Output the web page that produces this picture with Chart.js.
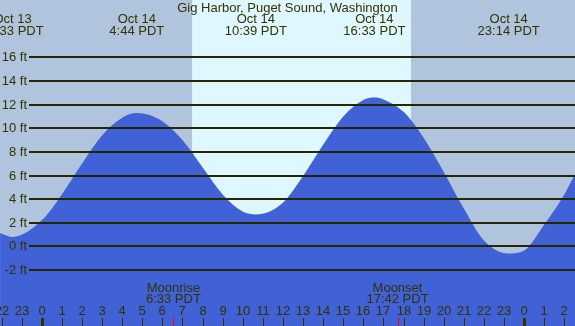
<!DOCTYPE html>
<html>
<head>
<meta charset="utf-8">
<script src="https://cdn.jsdelivr.net/npm/chart.js@4"></script>
<style>
  html, body { margin: 0; padding: 0; background: #b0c4de; }
  canvas { display: block; }
</style>
</head>
<body>
<canvas id="tideChart" width="575" height="326"></canvas>
<script>
// hours relative to Oct 14 00:00 PDT, heights in feet
const tideHours = [-2.07, -1.45, 0, 1, 2, 3, 4, 4.73, 6, 7, 8, 9, 10, 10.65,
  12, 13, 14, 15, 16, 16.55, 17, 18, 19, 20, 21, 22, 23.23, 24, 25, 26, 26.53];
const tideFeet = [1.1, 0.8, 2.2, 4.4, 7.0, 9.4, 10.9, 11.3, 10.6, 9.0, 6.7, 4.4, 2.95, 2.7,
  3.7, 5.95, 8.6, 11.0, 12.4, 12.6, 12.45, 11.4, 9.2, 6.3, 3.2, 0.5, -0.6, -0.35, 1.85, 4.4, 6.1];

const extremeHours = [-1.45, 4.73, 10.65, 16.55, 23.23];
const extremeDates = ['Oct 13', 'Oct 14', 'Oct 14', 'Oct 14', 'Oct 14'];
const extremeTimes = ['22:33 PDT', '4:44 PDT', '10:39 PDT', '16:33 PDT', '23:14 PDT'];

const daylight = [7.48, 18.37];

const moonHours = [6.55, 17.7];
const moonNames = ['Moonrise', 'Moonset'];
const moonTimes = ['6:33 PDT', '17:42 PDT'];

const yTicks = [-2, 0, 2, 4, 6, 8, 10, 12, 14, 16];
const hourTickStart = -2;
const hourTickLabels = ['22', '23', '0', '1', '2', '3', '4', '5', '6', '7', '8', '9', '10', '11', '12',
  '13', '14', '15', '16', '17', '18', '19', '20', '21', '22', '23', '0', '1', '2'];

const title = 'Gig Harbor, Puget Sound, Washington';

const INK = '#333300';
const LINE = '#262600';
const FONT = '13px "Liberation Sans", Arial, sans-serif';

const tidePlugin = {
  id: 'tideDecor',
  beforeDatasetsDraw(chart) {
    const { ctx, chartArea, scales } = chart;
    const x = scales.x;
    ctx.save();
    ctx.fillStyle = '#b0c4de';
    ctx.fillRect(chartArea.left, chartArea.top, chartArea.width, chartArea.height);
    const x0 = x.getPixelForValue(daylight[0]);
    const x1 = x.getPixelForValue(daylight[1]);
    ctx.fillStyle = '#dff7fe';
    ctx.fillRect(x0, chartArea.top, x1 - x0, chartArea.height);
    ctx.restore();
  },
  afterDatasetsDraw(chart) {
    const { ctx, chartArea, scales } = chart;
    const x = scales.x, y = scales.y;
    ctx.save();
    ctx.font = FONT;

    // horizontal lines + labels
    ctx.textAlign = 'right';
    ctx.textBaseline = 'middle';
    yTicks.forEach(v => {
      const py = Math.round(y.getPixelForValue(v));
      ctx.fillStyle = LINE;
      ctx.fillRect(29, py - 1, chartArea.right - 29, 2);
      ctx.fillStyle = INK;
      ctx.fillText(v + ' ft', 27, py);
    });

    ctx.fillStyle = INK;
    // title
    ctx.textAlign = 'center';
    ctx.fillText(title, chartArea.width / 2, 8);

    // high/low labels
    extremeHours.forEach((h, i) => {
      const px = x.getPixelForValue(h);
      ctx.fillText(extremeDates[i], px, 19);
      ctx.fillText(extremeTimes[i], px, 31);
    });

    // moon events
    moonHours.forEach((h, i) => {
      const px = x.getPixelForValue(h);
      ctx.fillStyle = INK;
      ctx.fillText(moonNames[i], px, 288);
      ctx.fillText(moonTimes[i], px, 299);
      ctx.fillStyle = '#ff0000';
      ctx.fillRect(Math.round(px), 318, 1, 8);
    });

    // hour ticks
    ctx.fillStyle = INK;
    hourTickLabels.forEach((lab, i) => {
      const px = Math.round(x.getPixelForValue(hourTickStart + i));
      ctx.fillText(lab, px, 311);
      if (lab === '0') {
        ctx.fillRect(px - 1, 318, 3, 8);
      } else {
        ctx.fillRect(px, 318, 1, 8);
      }
    });
    ctx.restore();
  }
};

document.addEventListener('DOMContentLoaded', function() {
  if (typeof Chart === 'undefined') {
    console.error('Chart.js is not loaded');
    return;
  }
  const points = tideHours.map((h, i) => ({ x: h, y: tideFeet[i] }));
  new Chart(document.getElementById('tideChart'), {
    type: 'line',
    data: {
      datasets: [{
        data: points,
        fill: 'start',
        backgroundColor: '#4161d6',
        borderWidth: 0,
        pointRadius: 0,
        cubicInterpolationMode: 'monotone'
      }]
    },
    options: {
      responsive: false,
      animation: false,
      layout: { padding: 0 },
      plugins: { legend: { display: false }, tooltip: { enabled: false } },
      scales: {
        x: { type: 'linear', display: false, min: -2.075, max: 26.53 },
        y: { type: 'linear', display: false, min: -6.75, max: 20.87 }
      }
    },
    plugins: [tidePlugin]
  });
});
</script>
</body>
</html>
